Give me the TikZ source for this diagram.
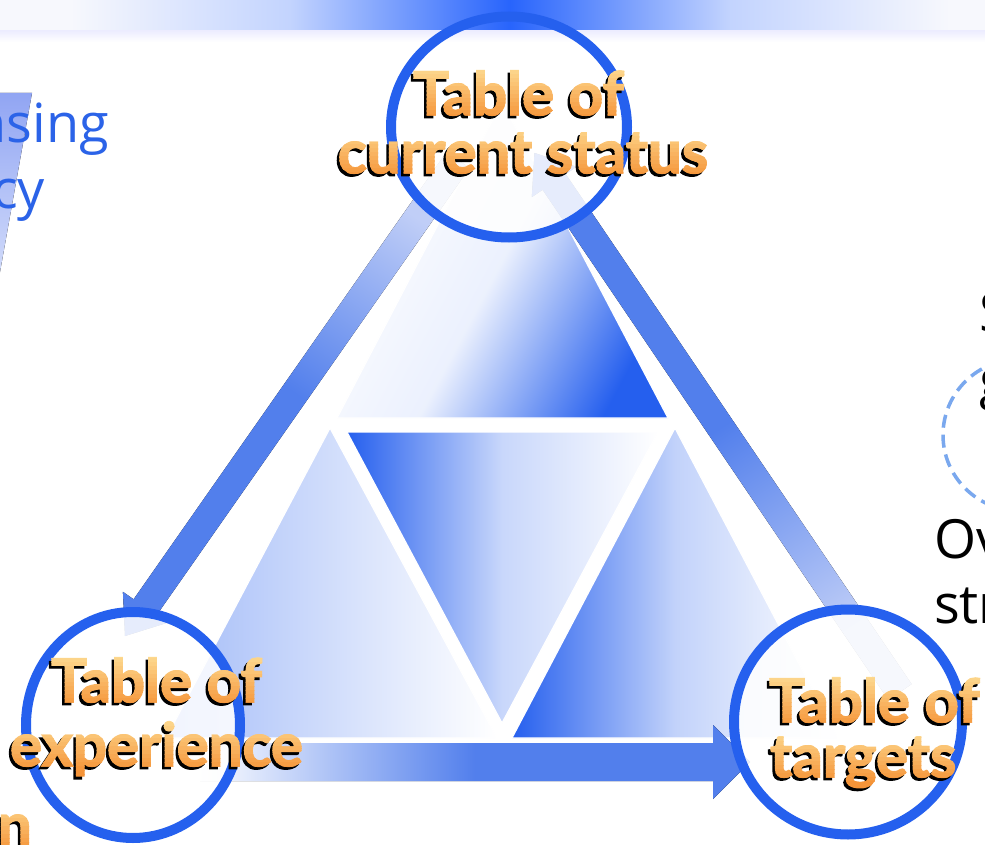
\documentclass[tikz,border=0pt]{standalone}
\usepackage{fontspec}
\setmainfont{Open Sans}
\newfontfamily\latofont{Lato}[BoldFeatures={FakeBold=2.2}]
\usetikzlibrary{calc,shapes.geometric}
\definecolor{ringblue}{RGB}{37,96,238}
\definecolor{bandblue}{RGB}{82,127,236}
\definecolor{bandlight}{RGB}{192,206,247}
\definecolor{triblue}{RGB}{37,95,238}
\definecolor{barblue}{RGB}{40,100,252}
\definecolor{barpale}{RGB}{247,248,253}
\definecolor{txtblue}{RGB}{43,99,232}
\definecolor{dashblue}{RGB}{122,168,238}
\definecolor{olight}{RGB}{253,216,142}
\definecolor{odark}{RGB}{245,148,56}
\definecolor{slanttop}{RGB}{145,165,243}
\definecolor{slantbot}{RGB}{208,218,250}
\tikzset{
  otxt/.style={inner sep=0pt, outer sep=0pt, font=\latofont\bfseries\fontsize{60}{60}\selectfont},
  ptxt/.style={inner sep=0pt, outer sep=0pt, font=\fontsize{54}{54}\selectfont},
  ring/.style={ellipse, draw=none, fill=white, fill opacity=0.86, inner sep=0pt},
  ringline/.style={draw=ringblue, line width=10pt},
  tri/.style={draw=white, line width=1.2pt, line join=round},
}
\newcommand\otext[4][base]{%
  \node[otxt, text=black, anchor=#1] (#2) at ($#3+(-2.5,2.8)$) {#4};
  \foreach \k in {0,...,15}{%
    \pgfmathtruncatemacro\pct{min(100,max(0,8*\k-2))}%
    \begin{scope}
      \clip ($#3+(-700,-48+4*\k)$) rectangle ($#3+(700,-43.6+4*\k)$);
      \node[otxt, text=odark!\pct!olight, anchor=#1] at #3 {#4};
    \end{scope}
  }%
}
\begin{document}
\begin{tikzpicture}[x=1pt,y=-1pt]
\useasboundingbox (0,0) rectangle (985,845);
\clip (0,0) rectangle (985,845);
\fill[white] (0,0) rectangle (985,845);
% four triangles
\path[tri, top color=white, bottom color=triblue, middle color=triblue!9!white, shading angle=62]
  (502,102) -- (668,418) -- (337,418) -- cycle;
\path[tri, left color=triblue, right color=white, middle color=triblue!25!white]
  (347,432) -- (658,432) -- (502,723) -- cycle;
\path[tri, left color=triblue!42!white, right color=white]
  (330,428) -- (497,738) -- (166,738) -- cycle;
\path[tri, left color=triblue, right color=white, middle color=triblue!28!white]
  (675,428) -- (838,738) -- (512,738) -- cycle;
% arrow bands
\fill[top color=bandlight, bottom color=bandblue, middle color=bandblue, shading angle=-35]
  (469.5,168) -- (156.5,615.3) -- (167.2,622.8) -- (125,636) -- (122.9,591.8) -- (133.6,599.3) -- (446.5,152) -- cycle;
\fill[top color=bandlight, bottom color=bandblue, middle color=bandblue, shading angle=-146]
  (911.6,684.1) -- (565.7,174.1) -- (576.5,166.8) -- (534.5,153) -- (531.8,197.1) -- (542.6,189.8) -- (888.4,699.9) -- cycle;
\fill[left color=white, right color=bandblue, middle color=bandblue]
  (200,743) -- (713,743) -- (713,725) -- (750,762) -- (713,799) -- (713,781) -- (200,781) -- cycle;
% circle fills
\node[ring, minimum width=236pt, minimum height=221pt] (cur) at (509,127) {};
\node[ring, minimum width=214pt, minimum height=226pt] (exper) at (133,725) {};
\node[ring, minimum width=228pt, minimum height=225pt] (tgt) at (848,722) {};
% top bar
\fill[barpale] (0,0) rectangle (985,31);
\fill[left color=barpale, right color=barblue, middle color=barblue!28!white] (70,0) rectangle (510,31);
\fill[left color=barblue, right color=barpale, middle color=barblue!28!white] (510,0) rectangle (950,31);
\fill[top color=blue!7!white, bottom color=white] (0,31) rectangle (985,42);
% circle strokes
\draw[ringline] (cur.center) ellipse [x radius=118pt, y radius=110.5pt];
\draw[ringline] (exper.center) ellipse [x radius=107pt, y radius=113pt];
\draw[ringline] (tgt.center) ellipse [x radius=114pt, y radius=112.5pt];
% left partial shape and text
\fill[top color=slanttop, bottom color=slantbot] (-5,93) -- (32,93) -- (0,272) -- (-5,272) -- cycle;
\node[ptxt, text=txtblue, anchor=base east] (t1) at (109,143) {nsing};
\node[ptxt, text=txtblue, anchor=base east] (t2) at (45,208) {cy};
% right partial content
\draw[dashblue, line width=3.5pt, dash pattern=on 13pt off 7pt] (1020,435) ellipse [x radius=77pt, y radius=76pt];
\node[ptxt, anchor=base west] (s1) at (979,331) {S};
\node[ptxt, anchor=base west] (s2) at (979,398) {g};
\node[ptxt, anchor=base west] (s3) at (934,558) {Ov};
\node[ptxt, anchor=base west] (s4) at (934,623) {str};
% orange labels
\otext{cur1}{(518.5,115)}{Table of}
\otext{cur2}{(523,173)}{current status}
\otext{exp1}{(156.5,702)}{Table of}
\otext{exp2}{(156.5,766)}{experience}
\otext[base west]{tgt1}{(769,722)}{Table of}
\otext[base west]{tgt2}{(770,777)}{targets}
\otext[base west]{nn}{(-2,846)}{n}
\end{tikzpicture}
\end{document}
